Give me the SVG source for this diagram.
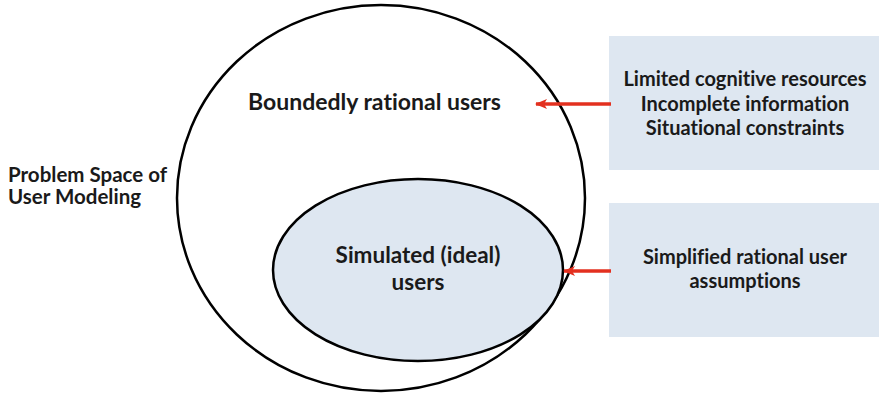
<svg xmlns="http://www.w3.org/2000/svg" width="879" height="393" viewBox="0 0 879 393">
<style>
.t{font-family:Lato,"Open Sans","Liberation Sans",sans-serif;font-weight:bold;fill:#1a1a1a;font-variant-ligatures:none}
.box{fill:#dee7f1}
.ring{fill:none;stroke:#000;stroke-width:2.5}
.arr{stroke:#e3301f;stroke-width:3.5;fill:none}
</style>
<defs>
<marker id="ah" viewBox="0 0 12 10" refX="11" refY="5" markerWidth="12" markerHeight="10" orient="auto" markerUnits="userSpaceOnUse">
<path d="M0,0 L12,5 L0,10 L3,5 Z" fill="#e3301f"/>
</marker>
</defs>
<rect width="879" height="393" fill="#fff"/>
<g id="problem-space">
<ellipse class="ring" cx="381" cy="198" rx="204" ry="193"/>
<text class="t" x="8" y="182" font-size="20.5">Problem Space of</text>
<text class="t" x="8" y="204" font-size="20.5">User Modeling</text>
</g>
<g id="bounded">
<text class="t" x="374.5" y="110" font-size="23" text-anchor="middle">Boundedly rational users</text>
</g>
<g id="simulated">
<ellipse cx="418" cy="270" rx="145" ry="91" fill="#dee7f1" stroke="#000" stroke-width="2.5"/>
<text class="t" x="418" y="263" font-size="22.5" text-anchor="middle">Simulated (ideal)</text>
<text class="t" x="418" y="290" font-size="22.5" text-anchor="middle">users</text>
</g>
<g id="box-limits">
<rect class="box" x="609" y="36" width="270" height="134"/>
<text class="t" x="745" y="86" font-size="20" text-anchor="middle">Limited cognitive resources</text>
<text class="t" x="745" y="110.5" font-size="20" text-anchor="middle">Incomplete information</text>
<text class="t" x="745" y="135" font-size="20" text-anchor="middle">Situational constraints</text>
</g>
<g id="box-assumptions">
<rect class="box" x="609" y="203" width="270" height="134"/>
<text class="t" x="745" y="264" font-size="20" text-anchor="middle">Simplified rational user</text>
<text class="t" x="745" y="288" font-size="20" text-anchor="middle">assumptions</text>
</g>
<g id="connectors">
<line class="arr" x1="611" y1="104" x2="536" y2="104" marker-end="url(#ah)"/>
<line class="arr" x1="611" y1="271" x2="564" y2="271" marker-end="url(#ah)"/>
</g>
</svg>
